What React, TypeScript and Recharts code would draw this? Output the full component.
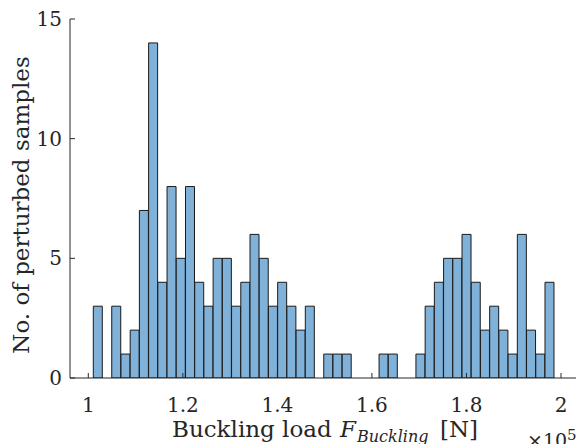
import { BarChart, Bar, XAxis, YAxis } from 'recharts';

// histogram bins (x in units of 1e5 N)
const BIN_START = 1.0106;
const BIN_WIDTH = 0.0195;
const binCounts = [
    3, 0, 3, 1, 2, 7, 14, 4, 8, 5,
    8, 4, 3, 5, 5, 3, 4, 6, 5, 3,
    4, 3, 2, 3, 0, 1, 1, 1, 0, 0,
    0, 1, 1, 0, 0, 1, 3, 4, 5, 5,
    6, 4, 2, 3, 2, 1, 6, 2, 1, 4,
];

const xTicks = [1, 1.2, 1.4, 1.6, 1.8, 2];
const yTicks = [0, 5, 10, 15];
const X_DOMAIN: [number, number] = [0.9613, 2.0317];
const Y_DOMAIN: [number, number] = [0, 15];

const bins = binCounts.map((count, i) => ({
    center: BIN_START + (i + 0.5) * BIN_WIDTH,
    count,
}));

const FONT = 'DejaVu Serif';
const AXIS = '#262626';
const TICK_LEN = 5;

const fmt = (v: number) => String(Math.round(v * 10) / 10);

function BottomTick({ x, y, payload }: any) {
    return (
        <g>
            <line x1={x} y1={y} x2={x} y2={y - TICK_LEN} stroke={AXIS} />
            <text x={x} y={y + 34} textAnchor="middle" fontSize={20} fontFamily={FONT} fill={AXIS}>
                {fmt(payload.value)}
            </text>
        </g>
    );
}

function TopTick({ x, y }: any) {
    return <line x1={x} y1={y} x2={x} y2={y + TICK_LEN} stroke={AXIS} />;
}

function LeftTick({ x, y, payload }: any) {
    return (
        <g>
            <line x1={x} y1={y} x2={x + TICK_LEN} y2={y} stroke={AXIS} />
            <text x={x - 8} y={y + 7} textAnchor="end" fontSize={20} fontFamily={FONT} fill={AXIS}>
                {payload.value}
            </text>
        </g>
    );
}

function RightTick({ x, y }: any) {
    return <line x1={x} y1={y} x2={x - TICK_LEN} y2={y} stroke={AXIS} />;
}

export default function App() {
    return (
        <div style={{ position: 'absolute', left: 0, top: 0, width: 577, height: 444, background: '#fff' }}>
            <BarChart
                width={577}
                height={444}
                data={bins}
                margin={{ top: 19, right: 1, bottom: 0, left: 0 }}
                barCategoryGap={0}
                barGap={0}
            >
                <XAxis
                    xAxisId="bottom"
                    dataKey="center"
                    type="number"
                    domain={X_DOMAIN}
                    allowDataOverflow
                    ticks={xTicks}
                    interval={0}
                    height={66}
                    tickSize={0}
                    tickMargin={0}
                    tickLine={false}
                    axisLine={{ stroke: AXIS }}
                    tick={<BottomTick />}
                />
                <XAxis
                    xAxisId="top"
                    orientation="top"
                    type="number"
                    domain={X_DOMAIN}
                    allowDataOverflow
                    ticks={xTicks}
                    interval={0}
                    height={0}
                    tickSize={0}
                    tickMargin={0}
                    tickLine={false}
                    axisLine={{ stroke: AXIS }}
                    tick={<TopTick />}
                />
                <YAxis
                    yAxisId="left"
                    type="number"
                    domain={Y_DOMAIN}
                    allowDataOverflow
                    ticks={yTicks}
                    interval={0}
                    width={70}
                    tickSize={0}
                    tickMargin={0}
                    tickLine={false}
                    axisLine={{ stroke: AXIS }}
                    tick={<LeftTick />}
                />
                <YAxis
                    yAxisId="right"
                    orientation="right"
                    type="number"
                    domain={Y_DOMAIN}
                    allowDataOverflow
                    ticks={yTicks}
                    interval={0}
                    width={0}
                    tickSize={0}
                    tickMargin={0}
                    tickLine={false}
                    axisLine={{ stroke: AXIS }}
                    tick={<RightTick />}
                />
                <Bar
                    xAxisId="bottom"
                    yAxisId="left"
                    dataKey="count"
                    fill="#80B1D9"
                    stroke="#1a1a1a"
                    strokeWidth={1}
                    isAnimationActive={false}
                />
                <text
                    transform="rotate(-90)"
                    x={-205}
                    y={29}
                    textAnchor="middle"
                    fontSize={23}
                    fontFamily={FONT}
                    fill={AXIS}
                >
                    No. of perturbed samples
                </text>
                <text y={437} fontSize={23} fontFamily={FONT} fill={AXIS}>
                    <tspan x={172}>Buckling load</tspan>
                    <tspan x={340} fontStyle="italic">F</tspan>
                    <tspan x={357} dy={5} fontSize={16} fontStyle="italic">Buckling</tspan>
                    <tspan x={440} dy={-5}>[N]</tspan>
                </text>
                <text x={527} y={447} fontSize={19} fontFamily={FONT} fill={AXIS}>
                    ×10<tspan fontSize={15} dy={-7}>5</tspan>
                </text>
            </BarChart>
        </div>
    );
}
